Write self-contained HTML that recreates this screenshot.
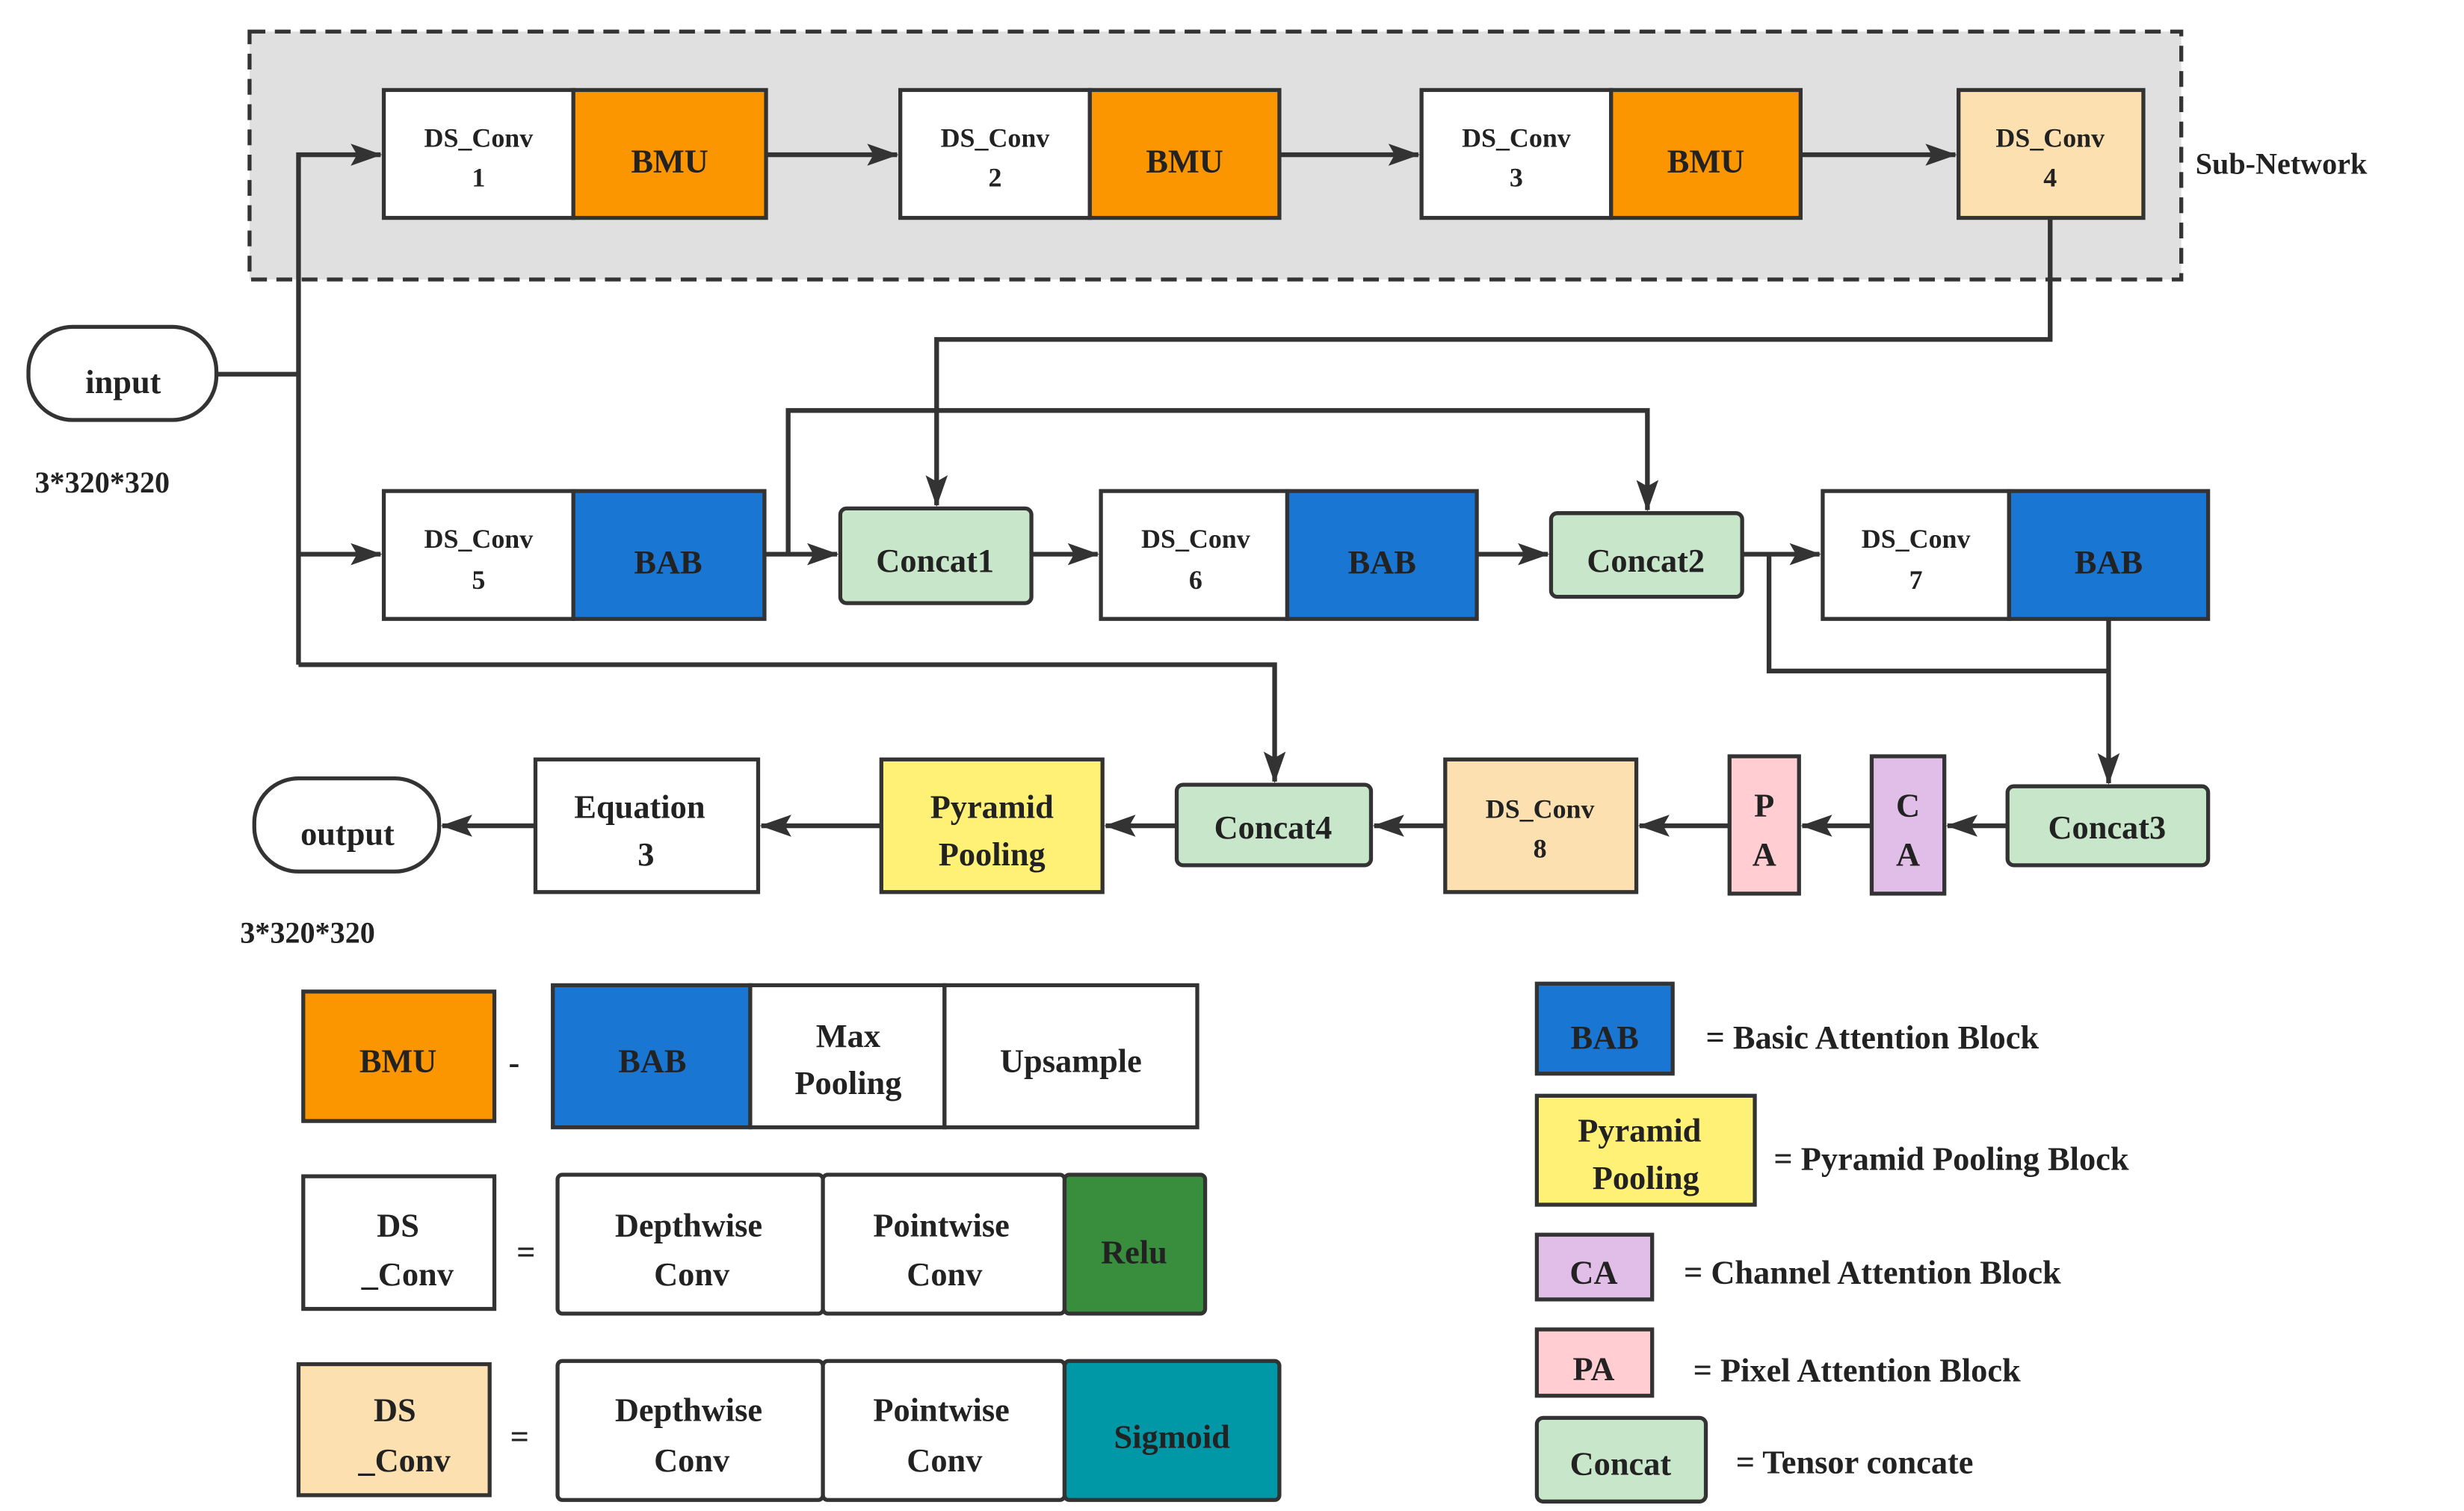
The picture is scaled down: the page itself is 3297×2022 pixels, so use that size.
<!DOCTYPE html>
<html><head><meta charset="utf-8"><style>
html,body{margin:0;padding:0;background:#fff}
svg{display:block}
svg text{font-family:"Liberation Serif","DejaVu Serif",serif;font-weight:bold;fill:#222}
</style></head><body>
<svg width="3297" height="2022" viewBox="0 0 1560 957" preserveAspectRatio="none" xmlns="http://www.w3.org/2000/svg" font-family="Liberation Serif, DejaVu Serif, serif" font-weight="bold">
<defs>
<marker id="b" markerWidth="20" markerHeight="14" refX="19" refY="7" orient="auto" markerUnits="userSpaceOnUse"><path d="M0,0 L20,7 L0,14 L4,7 Z" fill="#333"/></marker>
</defs>
<g stroke="#333" stroke-width="2.5">
<rect x="158" y="20" width="1223" height="157" fill="#e0e0e0" stroke-dasharray="10,6"/>
<rect x="243" y="57" width="120" height="81" fill="#fff"/><rect x="363" y="57" width="122" height="81" fill="#fb9600"/>
<rect x="570" y="57" width="120" height="81" fill="#fff"/><rect x="690" y="57" width="120" height="81" fill="#fb9600"/>
<rect x="900" y="57" width="120" height="81" fill="#fff"/><rect x="1020" y="57" width="120" height="81" fill="#fb9600"/>
<rect x="1240" y="57" width="117" height="81" fill="#fde0b0"/>
<rect x="18" y="207" width="119" height="59" rx="28" fill="#fff"/>
<rect x="243" y="311" width="120" height="81" fill="#fff"/><rect x="363" y="311" width="121" height="81" fill="#1976d2"/>
<rect x="532" y="322" width="121" height="60" rx="4" fill="#c8e6c9"/>
<rect x="697" y="311" width="118" height="81" fill="#fff"/><rect x="815" y="311" width="120" height="81" fill="#1976d2"/>
<rect x="982" y="325" width="121" height="53" rx="4" fill="#c8e6c9"/>
<rect x="1154" y="311" width="118" height="81" fill="#fff"/><rect x="1272" y="311" width="126" height="81" fill="#1976d2"/>
<rect x="1271" y="498" width="127" height="50" rx="4" fill="#c8e6c9"/>
<rect x="1185" y="479" width="46" height="87" fill="#e1bee7"/>
<rect x="1095" y="479" width="44" height="87" fill="#ffcdd2"/>
<rect x="915" y="481" width="121" height="84" fill="#fde0b0"/>
<rect x="745" y="497" width="123" height="51" rx="4" fill="#c8e6c9"/>
<rect x="558" y="481" width="140" height="84" fill="#fff176"/>
<rect x="339" y="481" width="141" height="84" fill="#fff"/>
<rect x="161" y="493" width="117" height="59" rx="28" fill="#fff"/>
<rect x="192" y="628" width="121" height="82" fill="#fb9600"/>
<rect x="350" y="624" width="125" height="90" fill="#1976d2"/><rect x="475" y="624" width="123" height="90" fill="#fff"/><rect x="598" y="624" width="160" height="90" fill="#fff"/>
<rect x="192" y="745" width="121" height="84" fill="#fff"/>
<rect x="353" y="744" width="168" height="88" rx="3" fill="#fff"/><rect x="521" y="744" width="153" height="88" rx="3" fill="#fff"/><rect x="674" y="744" width="89" height="88" rx="3" fill="#388e3c"/>
<rect x="189" y="864" width="121" height="83" fill="#fde0b0"/>
<rect x="353" y="862" width="168" height="88" rx="3" fill="#fff"/><rect x="521" y="862" width="153" height="88" rx="3" fill="#fff"/><rect x="674" y="862" width="136" height="88" rx="3" fill="#0097a7"/>
<rect x="973" y="623" width="86" height="57" fill="#1976d2"/>
<rect x="973" y="694" width="138" height="69" fill="#fff176"/>
<rect x="973" y="782" width="73" height="41" fill="#e1bee7"/>
<rect x="973" y="842" width="73" height="42" fill="#ffcdd2"/>
<rect x="973" y="898" width="107" height="53" rx="4" fill="#c8e6c9"/>
</g>
<g stroke="#333" stroke-width="3" fill="none">
<path d="M137,237 H189"/>
<path d="M189,421 V98 H241" marker-end="url(#b)"/>
<path d="M485,98 H568" marker-end="url(#b)"/>
<path d="M810,98 H898" marker-end="url(#b)"/>
<path d="M1140,98 H1238" marker-end="url(#b)"/>
<path d="M1298,138 V215 H593 V320" marker-end="url(#b)"/>
<path d="M189,351 H241" marker-end="url(#b)"/>
<path d="M484,351 H530" marker-end="url(#b)"/>
<path d="M499,351 V260 H1043 V323" marker-end="url(#b)"/>
<path d="M653,351 H695" marker-end="url(#b)"/>
<path d="M935,351 H980" marker-end="url(#b)"/>
<path d="M1103,351 H1152" marker-end="url(#b)"/>
<path d="M1120,351 V425 H1335"/>
<path d="M1335,392 V496" marker-end="url(#b)"/>
<path d="M189,421 H807 V495" marker-end="url(#b)"/>
<path d="M1271,523 H1233" marker-end="url(#b)"/>
<path d="M1185,523 H1141" marker-end="url(#b)"/>
<path d="M1095,523 H1038" marker-end="url(#b)"/>
<path d="M915,523 H870" marker-end="url(#b)"/>
<path d="M745,523 H700" marker-end="url(#b)"/>
<path d="M558,523 H482" marker-end="url(#b)"/>
<path d="M339,523 H280" marker-end="url(#b)"/>
</g>
<g text-anchor="middle" font-size="17">
<text x="303" y="93">DS_Conv</text><text x="303" y="118">1</text>
<text x="630" y="93">DS_Conv</text><text x="630" y="118">2</text>
<text x="960" y="93">DS_Conv</text><text x="960" y="118">3</text>
<text x="1298" y="93">DS_Conv</text><text x="1298" y="118">4</text>
<text x="303" y="347">DS_Conv</text><text x="303" y="373">5</text>
<text x="757" y="347">DS_Conv</text><text x="757" y="373">6</text>
<text x="1213" y="347">DS_Conv</text><text x="1213" y="373">7</text>
<text x="975" y="518">DS_Conv</text><text x="975" y="543">8</text>
</g>
<g text-anchor="middle" font-size="21">
<text x="424" y="109">BMU</text><text x="750" y="109">BMU</text><text x="1080" y="109">BMU</text>
<text x="78" y="249">input</text>
<text x="423" y="363">BAB</text><text x="592" y="362">Concat1</text>
<text x="875" y="363">BAB</text><text x="1042" y="362">Concat2</text>
<text x="1335" y="363">BAB</text>
<text x="1334" y="531">Concat3</text>
<text x="1208" y="517">C</text><text x="1208" y="548">A</text>
<text x="1117" y="517">P</text><text x="1117" y="548">A</text>
<text x="806" y="531">Concat4</text>
<text x="628" y="518">Pyramid</text><text x="628" y="548">Pooling</text>
<text x="405" y="518">Equation</text><text x="409" y="548">3</text>
<text x="220" y="535">output</text>
<text x="252" y="679">BMU</text>
<text x="413" y="679">BAB</text>
<text x="537" y="663">Max</text><text x="537" y="693">Pooling</text>
<text x="678" y="679">Upsample</text>
<text x="252" y="783">DS</text><text x="258" y="814">_Conv</text>
<text x="436" y="783">Depthwise</text><text x="438" y="814">Conv</text>
<text x="596" y="783">Pointwise</text><text x="598" y="814">Conv</text>
<text x="718" y="800">Relu</text>
<text x="250" y="900">DS</text><text x="256" y="932">_Conv</text>
<text x="436" y="900">Depthwise</text><text x="438" y="932">Conv</text>
<text x="596" y="900">Pointwise</text><text x="598" y="932">Conv</text>
<text x="742" y="917">Sigmoid</text>
<text x="1016" y="664">BAB</text>
<text x="1038" y="723">Pyramid</text><text x="1042" y="753">Pooling</text>
<text x="1009" y="813">CA</text>
<text x="1009" y="874">PA</text>
<text x="1026" y="934">Concat</text>
</g>
<g font-size="21">
<text x="1080" y="664">= Basic Attention Block</text>
<text x="1123" y="741">= Pyramid Pooling Block</text>
<text x="1066" y="813">= Channel Attention Block</text>
<text x="1072" y="875">= Pixel Attention Block</text>
<text x="1099" y="933">= Tensor concate</text>
<text x="1390" y="110" font-size="19">Sub-Network</text>
<text x="22" y="312" font-size="19">3*320*320</text>
<text x="152" y="597" font-size="19">3*320*320</text>
<text x="322" y="680">-</text><text x="327" y="800">=</text><text x="323" y="917">=</text>
</g>
</svg>
</body></html>
